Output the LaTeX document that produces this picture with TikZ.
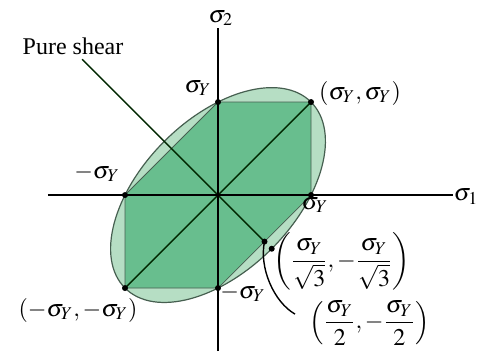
\documentclass[tikz,border=0pt]{standalone}
\usepackage{amsmath}
\usepackage{mathptmx}
\usepackage{fontspec}
\setmainfont{Liberation Serif}
\definecolor{lightg}{RGB}{182,222,196}
\definecolor{darkg}{RGB}{104,190,142}
\definecolor{edgec}{RGB}{70,95,80}
\begin{document}
\begin{tikzpicture}[x=46.5pt,y=46.5pt,
  lbl/.style={font=\fontsize{12}{14}\selectfont, inner sep=1pt},
  axisline/.style={line width=0.8pt, black},
  inner/.style={line width=0.7pt, black!85!green},
  dotc/.style={circle, fill=black, inner sep=0pt, minimum size=3pt}]
\useasboundingbox (-2.344,-1.677) rectangle (2.935,2.097);
\coordinate (O) at (0,0);
\coordinate (A) at (1,0);
\coordinate (B) at (1,1);
\coordinate (C) at (0,1);
\coordinate (D) at (-1,0);
\coordinate (E) at (-1,-1);
\coordinate (F) at (0,-1);
\coordinate (P2) at (0.5,-0.5);
\coordinate (P3) at (0.57735,-0.57735);
\coordinate (XL) at (-1.828,0);
\coordinate (XR) at (2.527,0);
\coordinate (YB) at (0,-1.677);
\coordinate (YT) at (0,1.796);
\coordinate (PS) at (-1.46,1.46);
\coordinate (CE) at (0.828,-1.28);
% regions
\fill[lightg, rotate=45] (O) ellipse [x radius=1.41421, y radius=0.8165];
\fill[darkg] (A)--(B)--(C)--(D)--(E)--(F)--cycle;
\draw[edgec, line width=0.6pt, rotate=45] (O) ellipse [x radius=1.41421, y radius=0.8165];
\draw[edgec, line width=0.4pt] (A)--(B)--(C)--(D)--(E)--(F)--cycle;
% lines
\draw[inner] (E) -- (B);
\draw[inner] (PS) -- (P2);
\draw[axisline] (XL) -- (XR);
\draw[axisline] (YB) -- (YT);
% dots
\foreach \p in {A,B,C,D,E,F,P2,P3} \node[dotc] at (\p) {};
% labels
\node[lbl] (s1) at (2.667,-0.02) {$\sigma_1$};
\node[lbl] (s2) at (0.03,1.903) {$\sigma_2$};
\node[lbl] (ps) at (-1.559,1.602) {Pure shear};
\node[lbl] (lC) at (-0.215,1.15) {$\sigma_Y$};
\node[lbl] (lB) at (1.527,1.097) {$(\sigma_Y, \sigma_Y)$};
\node[lbl] (lD) at (-1.30,0.237) {$-\sigma_Y$};
\node[lbl] (lA) at (1.043,-0.108) {$\sigma_Y$};
\node[lbl] (lF) at (0.269,-1.054) {$-\sigma_Y$};
\node[lbl] (lE) at (-1.505,-1.237) {$(-\sigma_Y, -\sigma_Y)$};
\node[lbl] (f1) at (1.33,-0.71) {$\left(\dfrac{\sigma_Y}{\sqrt{3}}, -\dfrac{\sigma_Y}{\sqrt{3}}\right)$};
\node[lbl] (f2) at (1.63,-1.376) {$\left(\dfrac{\sigma_Y}{2}, -\dfrac{\sigma_Y}{2}\right)$};
\draw[line width=0.7pt] (P2) .. controls (0.44,-0.78) and (0.6,-1.15) .. (CE);
\end{tikzpicture}
\end{document}
